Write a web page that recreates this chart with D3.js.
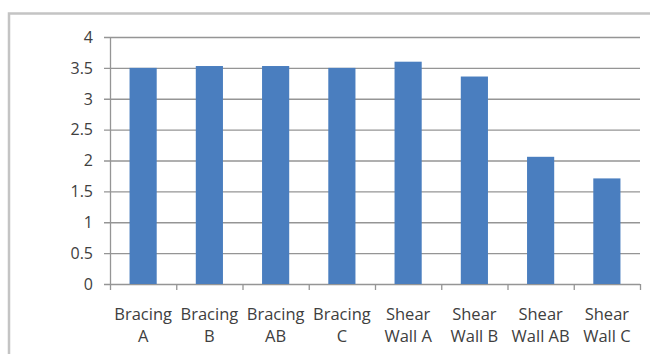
<!DOCTYPE html>
<html>
<head>
<meta charset="utf-8">
<script src="https://cdn.jsdelivr.net/npm/d3@7"></script>
<style>
  body { margin: 0; background: #fff; }
  text { font-family: "Open Sans", "Noto Sans", sans-serif; }
</style>
</head>
<body>
<script>
// data
const categories = ["Bracing A", "Bracing B", "Bracing AB", "Bracing C",
  "Shear Wall A", "Shear Wall B", "Shear Wall AB", "Shear Wall C"];
const values = [3.5, 3.53, 3.53, 3.5, 3.6, 3.36, 2.06, 1.71];
const yTicks = [0, 0.5, 1, 1.5, 2, 2.5, 3, 3.5, 4];

const width = 650, height = 354;
const plotLeft = 110, plotRight = 640, plotTop = 37, plotBottom = 284;

const svg = d3.select("body").append("svg")
  .attr("width", width)
  .attr("height", height);

// chart frame (runs off the right and bottom edge)
svg.append("rect")
  .attr("x", 9).attr("y", 13.5)
  .attr("width", 700).attr("height", 400)
  .attr("fill", "#fff")
  .attr("stroke", "#c4c4c4")
  .attr("stroke-width", 2.5);

const x = d3.scaleBand()
  .domain(categories)
  .range([plotLeft, plotRight])
  .paddingInner(0.59)
  .paddingOuter(0.295);

const y = d3.scaleLinear().domain([0, 4]).range([plotBottom, plotTop]);

// gridlines + y ticks
svg.append("g").selectAll("line")
  .data(yTicks)
  .join("line")
  .attr("x1", plotLeft - 6).attr("x2", plotRight)
  .attr("y1", d => y(d) + 0.5).attr("y2", d => y(d) + 0.5)
  .attr("stroke", "#959595")
  .attr("stroke-width", 1.3);

svg.append("g").selectAll("text")
  .data(yTicks)
  .join("text")
  .attr("x", 93)
  .attr("y", d => y(d))
  .attr("dy", "0.36em")
  .attr("text-anchor", "end")
  .attr("font-size", 16)
  .attr("fill", "#404040")
  .text(d => d);

// y axis line
svg.append("line")
  .attr("x1", plotLeft + 0.5).attr("x2", plotLeft + 0.5)
  .attr("y1", plotTop).attr("y2", plotBottom + 1)
  .attr("stroke", "#959595").attr("stroke-width", 1.3);

// bars
svg.append("g").selectAll("rect")
  .data(values)
  .join("rect")
  .attr("x", (d, i) => x(categories[i]))
  .attr("y", d => y(d))
  .attr("width", x.bandwidth())
  .attr("height", d => plotBottom - y(d))
  .attr("fill", "#4a7ebf");

// x axis ticks at category boundaries
const bounds = d3.range(categories.length + 1).map(i => plotLeft + i * x.step());
svg.append("g").selectAll("line")
  .data(bounds)
  .join("line")
  .attr("x1", d => d + 0.5).attr("x2", d => d + 0.5)
  .attr("y1", plotBottom).attr("y2", plotBottom + 6)
  .attr("stroke", "#959595").attr("stroke-width", 1.3);

// category labels, two lines each
const lab = svg.append("g").selectAll("text")
  .data(categories)
  .join("text")
  .attr("text-anchor", "middle")
  .attr("font-size", 16.5)
  .attr("fill", "#404040");

lab.append("tspan")
  .attr("x", d => x(d) + x.bandwidth() / 2)
  .attr("y", 320)
  .text(d => d.slice(0, d.indexOf(" ")));
lab.append("tspan")
  .attr("x", d => x(d) + x.bandwidth() / 2)
  .attr("y", 342)
  .text(d => d.slice(d.indexOf(" ") + 1));
</script>
</body>
</html>
